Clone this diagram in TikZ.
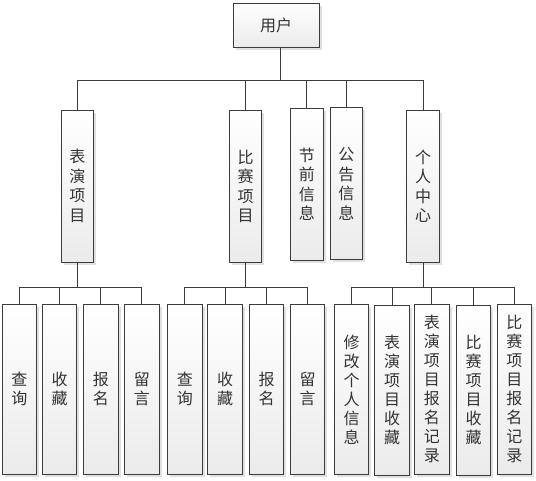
\documentclass[tikz,border=0pt]{standalone}
\usepackage{fontspec}
\usepackage{tikz}
\usetikzlibrary{shadows}
\newfontfamily\cjk{Noto Sans CJK SC}
\definecolor{edge}{HTML}{3C3C3C}
\definecolor{boxtop}{HTML}{FFFFFF}
\definecolor{boxbottom}{HTML}{EBEBEB}
\definecolor{shadowgray}{HTML}{E0E0E0}
\definecolor{label}{HTML}{333333}
\tikzset{
  modbox/.style={draw=edge, line width=0.9pt, top color=boxtop, bottom color=boxbottom,
    drop shadow={shadow xshift=2.5pt, shadow yshift=-2.5pt, fill=shadowgray, opacity=1},
    align=center, inner sep=0pt, text=label, font=\cjk\fontsize{16}{19}\selectfont},
  midbox/.style={modbox, minimum width=32.5pt, minimum height=152pt,
    font=\cjk\fontsize{16}{19.5}\selectfont},
  leafbox/.style={modbox, minimum width=34.5pt, minimum height=170pt},
  link/.style={draw=edge, line width=0.9pt},
}

\begin{document}
\begin{tikzpicture}[x=1pt, y=-1pt]
  \useasboundingbox (0,0) rectangle (536,480);
  % Root
  \node[modbox, minimum width=86pt, minimum height=44pt] (user) at (276,25) {用户};
  % Modules
  \node[midbox] (perf) at (77.3,186) {表\\演\\项\\目};
  \node[midbox] (comp) at (245.5,186.2) {比\\赛\\项\\目};
  \node[midbox] (fest) at (306.8,184.3) {节\\前\\信\\息};
  \node[midbox] (notice) at (346.3,183.7) {公\\告\\信\\息};
  \node[midbox] (personal) at (423,186.3) {个\\人\\中\\心};
  % Functions of performance items
  \node[leafbox] (qa) at (19.5,389.2) {查\\询};
  \node[leafbox] (fa) at (59.5,389.2) {收\\藏};
  \node[leafbox] (ba) at (100.8,389.2) {报\\名};
  \node[leafbox] (la) at (141.8,389.2) {留\\言};
  % Functions of competition items
  \node[leafbox] (qb) at (184.8,389.2) {查\\询};
  \node[leafbox] (fb) at (225,389.2) {收\\藏};
  \node[leafbox] (bb) at (266.5,389.2) {报\\名};
  \node[leafbox] (lb) at (307.5,389.2) {留\\言};
  % Functions of personal center
  \node[leafbox] (pa) at (351.5,389.3) {修\\改\\个\\人\\信\\息};
  \node[leafbox] (pb) at (392,390) {表\\演\\项\\目\\收\\藏};
  \node[leafbox] (pc) at (431.8,389.2) {表\\演\\项\\目\\报\\名\\记\\录};
  \node[leafbox] (pd) at (473.5,390) {比\\赛\\项\\目\\收\\藏};
  \node[leafbox] (pe) at (514.3,389.2) {比\\赛\\项\\目\\报\\名\\记\\录};
  % Links
  \foreach \m in {perf,comp,fest,notice,personal}
    \draw[link] ([xshift=4.3pt]user.south) -- ++(0,33.3) -| (\m.north);
  \foreach \l in {qa,fa,ba,la}
    \draw[link] (perf.south) -- ++(0,25.3) -| (\l.north);
  \foreach \l in {qb,fb,bb,lb}
    \draw[link] (comp.south) -- ++(0,25.1) -| (\l.north);
  \foreach \l in {pa,pb,pc,pd,pe}
    \draw[link] (personal.south) -- ++(0,25) -| (\l.north);
\end{tikzpicture}
\end{document}
